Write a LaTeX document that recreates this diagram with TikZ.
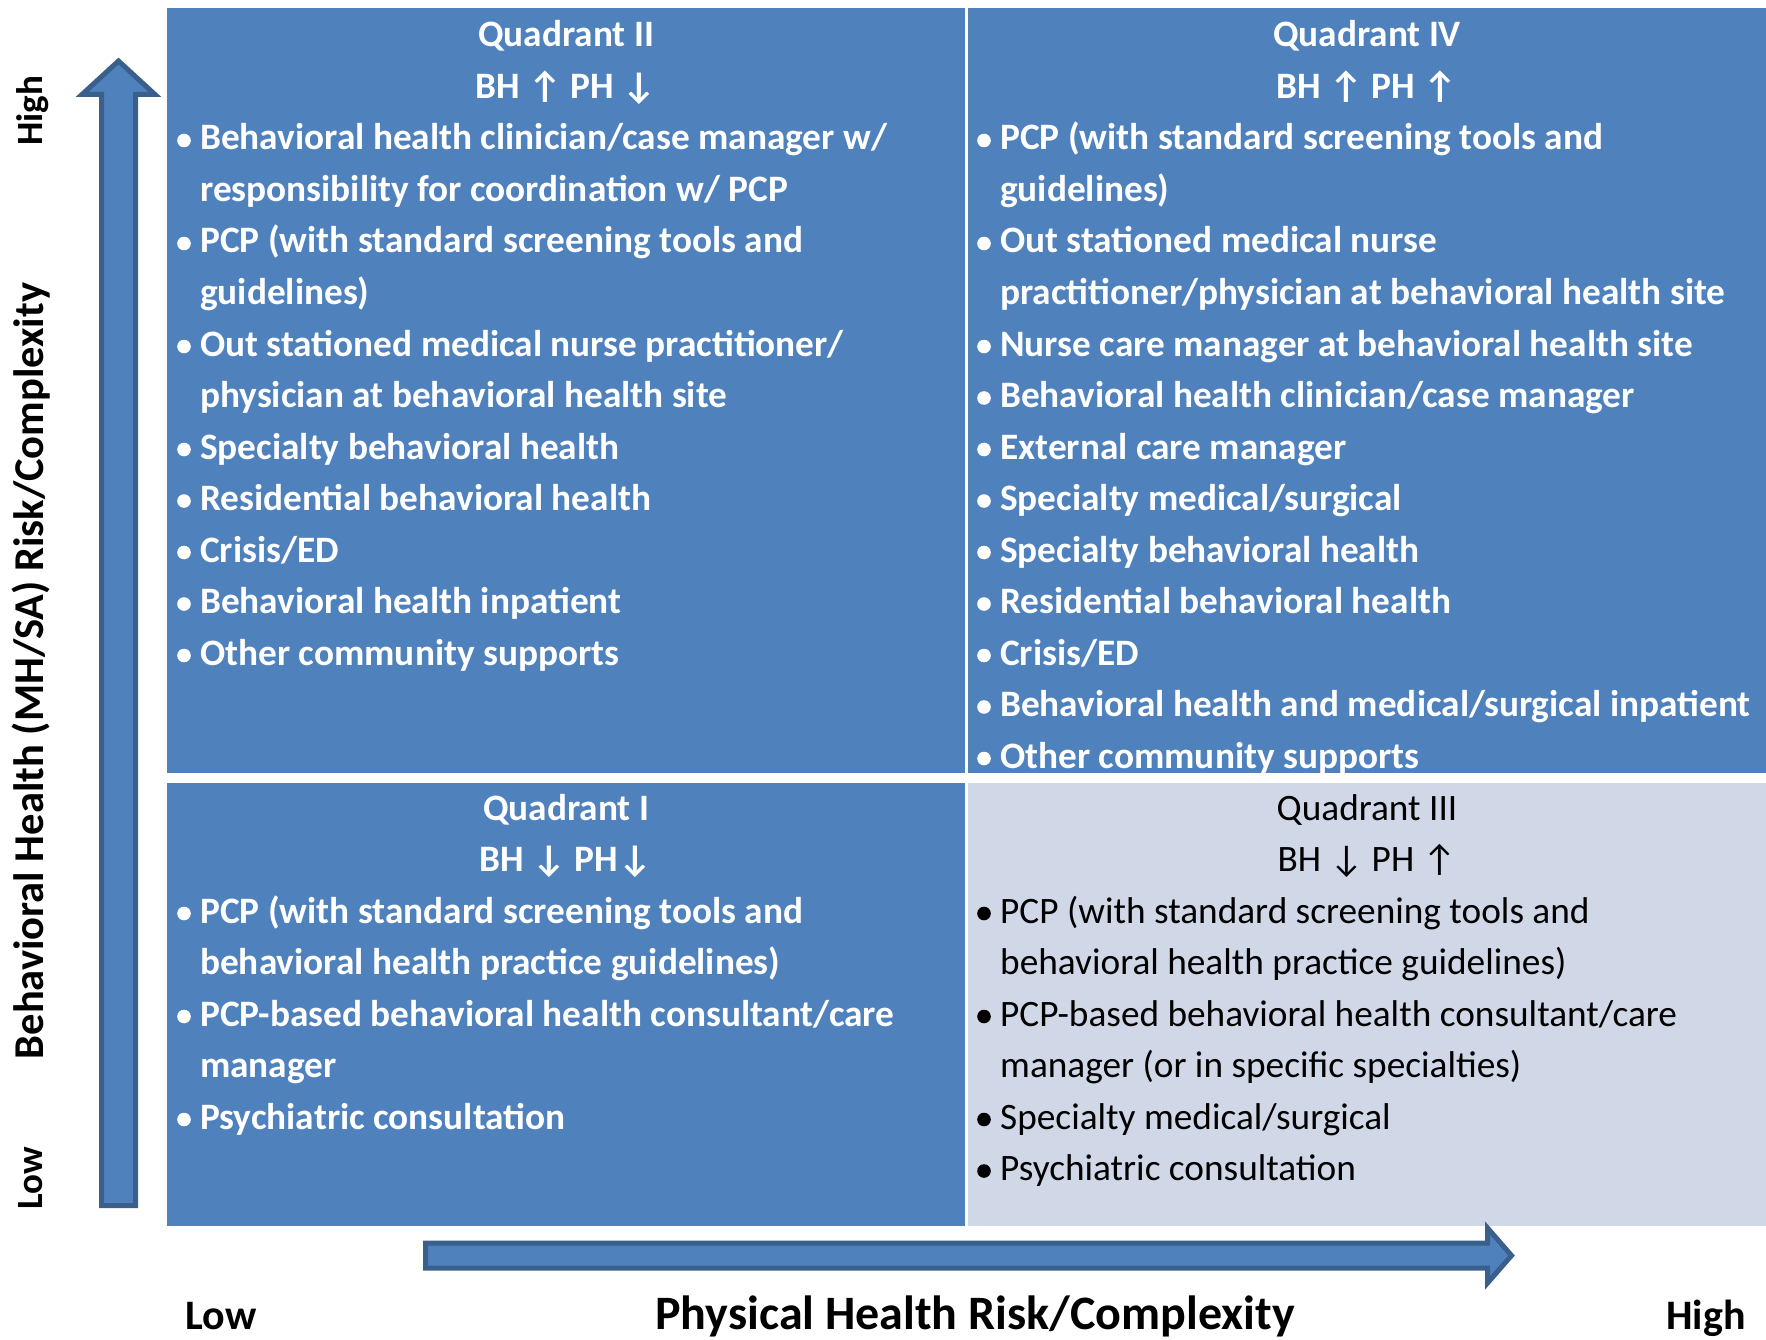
\documentclass[tikz,border=0pt]{standalone}
\usepackage{fontspec}
\setmainfont{Carlito}
\usetikzlibrary{calc}
\definecolor{qblue}{HTML}{4F81BD}
\definecolor{qlight}{HTML}{D0D8E8}
\definecolor{aborder}{HTML}{3A5F8B}
\begin{document}
\begin{tikzpicture}[x=1pt,y=-1pt,
  quad/.style={fill=qblue,draw=none,inner sep=0pt,anchor=north west},
  wtxt/.style={text=white,font=\bfseries\fontsize{37.3}{44}\selectfont,inner sep=0pt,anchor=base west},
  btxt/.style={text=black,font=\fontsize{37.3}{44}\selectfont,inner sep=0pt,anchor=base west},
  wtitle/.style={wtxt,anchor=base},
  btitle/.style={btxt,anchor=base},
  axlab/.style={text=black,font=\bfseries\fontsize{37}{44}\selectfont,inner sep=0pt,anchor=base,rotate=90},
  xlab/.style={text=black,font=\bfseries\fontsize{42}{50}\selectfont,inner sep=0pt,anchor=base},
  bigarrow/.style={fill=qblue,draw=aborder,line width=5pt,line join=miter}]
\useasboundingbox (0,0) rectangle (1766,1340);
% quadrants
\node[quad,minimum width=798,minimum height=765] (q2) at (167,8) {};
\node[quad,minimum width=798,minimum height=765] (q4) at (968,8) {};
\node[quad,minimum width=798,minimum height=443] (q1) at (167,783) {};
\node[quad,fill=qlight,minimum width=798,minimum height=443] (q3) at (968,783) {};
% axis arrows
\draw[bigarrow] (101.5,1205.5) -- (101.5,94.5) -- (82,94.5) -- (118.5,61) -- (155,94.5) -- (135.5,94.5) -- (135.5,1205.5) -- cycle;
\draw[bigarrow] (425.5,1243) -- (1487.5,1243) -- (1487.5,1228) -- (1511.5,1255.5) -- (1487.5,1283) -- (1487.5,1268) -- (425.5,1268) -- cycle;
% axis labels
\node[axlab] (yhigh) at (42,111) {High};
\node[axlab,font=\bfseries\fontsize{42.5}{50}\selectfont] (ytitle) at (43,671) {Behavioral Health (MH/SA) Risk/Complexity};
\node[axlab] (ylow) at (42,1178) {Low};
\node[xlab] (xlow) at (221,1329) {Low};
\node[xlab,font=\bfseries\fontsize{48}{56}\selectfont] (xtitle) at (975,1329) {Physical Health Risk/Complexity};
\node[xlab] (xhigh) at (1706,1329) {High};
% macros
\newcommand\WL[3]{\node[wtxt] (#1) at (#2) {#3};}
\newcommand\WB[3]{\fill[white] ($(#2)+(-16,-9.5)$) circle (6.8); \node[wtxt] (#1) at (#2) {#3};}
\newcommand\BL[3]{\node[btxt] (#1) at (#2) {#3};}
\newcommand\BB[3]{\fill[black] ($(#2)+(-16,-9.5)$) circle (6.8); \node[btxt] (#1) at (#2) {#3};}
\begin{scope}[yshift=-2pt]
% Quadrant II
\node[wtitle] (q2t) at (566,45) {Quadrant II};
\node[wtitle] (q2s) at (566,96.5) {BH ↑ PH ↓};
\WB{a1}{200,148}{Behavioral health clinician/case manager w/}
\WL{a2}{200,199.5}{responsibility for coordination w/ PCP}
\WB{a3}{200,251}{PCP (with standard screening tools and}
\WL{a4}{200,302.5}{guidelines)}
\WB{a5}{200,354}{Out stationed medical nurse practitioner/}
\WL{a6}{200,405.5}{physician at behavioral health site}
\WB{a7}{200,457}{Specialty behavioral health}
\WB{a8}{200,508.5}{Residential behavioral health}
\WB{a9}{200,560}{Crisis/ED}
\WB{a10}{200,611.5}{Behavioral health inpatient}
\WB{a11}{200,663}{Other community supports}
% Quadrant IV
\node[wtitle] (q4t) at (1367,45) {Quadrant IV};
\node[wtitle] (q4s) at (1367,96.5) {BH ↑ PH ↑};
\WB{b1}{1000,148}{PCP (with standard screening tools and}
\WL{b2}{1000,199.5}{guidelines)}
\WB{b3}{1000,251}{Out stationed medical nurse}
\WL{b4}{1000,302.5}{practitioner/physician at behavioral health site}
\WB{b5}{1000,354}{Nurse care manager at behavioral health site}
\WB{b6}{1000,405.5}{Behavioral health clinician/case manager}
\WB{b7}{1000,457}{External care manager}
\WB{b8}{1000,508.5}{Specialty medical/surgical}
\WB{b9}{1000,560}{Specialty behavioral health}
\WB{b10}{1000,611.5}{Residential behavioral health}
\WB{b11}{1000,663}{Crisis/ED}
\WB{b12}{1000,714.5}{Behavioral health and medical/surgical inpatient}
\WB{b13}{1000,766}{Other community supports}
% Quadrant I
\node[wtitle] (q1t) at (566,818) {Quadrant I};
\node[wtitle] (q1s) at (566,869.5) {BH ↓ PH↓};
\WB{c1}{200,921}{PCP (with standard screening tools and}
\WL{c2}{200,972.5}{behavioral health practice guidelines)}
\WB{c3}{200,1024}{PCP-based behavioral health consultant/care}
\WL{c4}{200,1075.5}{manager}
\WB{c5}{200,1127}{Psychiatric consultation}
% Quadrant III
\node[btitle] (q3t) at (1367,818) {Quadrant III};
\node[btitle] (q3s) at (1367,869.5) {BH ↓ PH ↑};
\BB{d1}{1000,921}{PCP (with standard screening tools and}
\BL{d2}{1000,972.5}{behavioral health practice guidelines)}
\BB{d3}{1000,1024}{PCP-based behavioral health consultant/care}
\BL{d4}{1000,1075.5}{manager (or in specific specialties)}
\BB{d5}{1000,1127}{Specialty medical/surgical}
\BB{d6}{1000,1178.5}{Psychiatric consultation}
\end{scope}
\end{tikzpicture}
\end{document}
